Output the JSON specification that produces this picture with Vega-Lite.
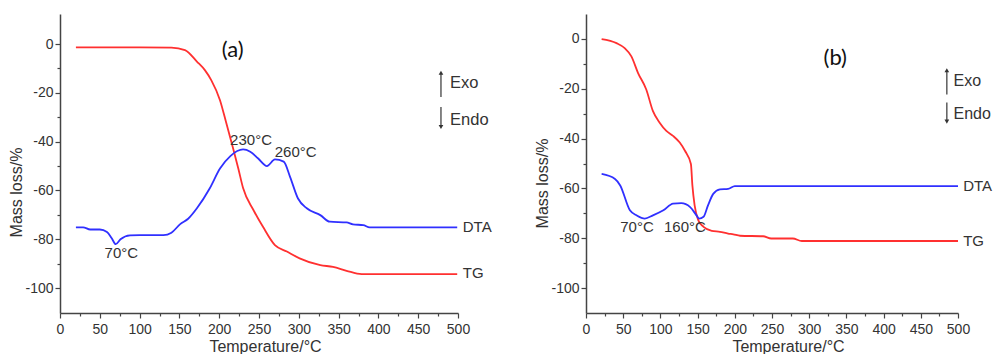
{
  "$schema": "https://vega.github.io/schema/vega-lite/v6.json",
  "padding": {"left": 8, "top": 14, "right": 0, "bottom": 0},
  "autosize": {"type": "pad"},
  "background": "white",
  "bounds": "flush",
  "spacing": 128,
  "config": {
    "view": {"stroke": null},
    "font": "Liberation Sans",
    "axis": {"domainColor": "#444", "domainWidth": 1.5, "tickColor": "#444", "tickWidth": 1.2, "labelColor": "#333", "titleColor": "#333", "labelFontSize": 14, "titleFontSize": 16, "titleFontWeight": "normal", "grid": false, "labelOverlap": false, "labelFlush": false, "labelFont": "Liberation Sans", "titleFont": "Liberation Sans"},
    "text": {"font": "Liberation Sans", "fontSize": 15, "fill": "#333"}
  },
  "datasets": {
    "a_lines": [
      {"s": "TG", "T": 20, "v": -1.4}, {"s": "TG", "T": 60, "v": -1.4}, {"s": "TG", "T": 100, "v": -1.4}, {"s": "TG", "T": 140, "v": -1.5}, {"s": "TG", "T": 157, "v": -2.5}, {"s": "TG", "T": 172, "v": -7.2}, {"s": "TG", "T": 182, "v": -10.7}, {"s": "TG", "T": 190, "v": -14.8}, {"s": "TG", "T": 201, "v": -23}, {"s": "TG", "T": 209, "v": -32.5}, {"s": "TG", "T": 218, "v": -43.4}, {"s": "TG", "T": 224, "v": -51}, {"s": "TG", "T": 230, "v": -59}, {"s": "TG", "T": 243, "v": -68}, {"s": "TG", "T": 255, "v": -74.9}, {"s": "TG", "T": 270, "v": -82.4}, {"s": "TG", "T": 285, "v": -85}, {"s": "TG", "T": 301, "v": -87.8}, {"s": "TG", "T": 327, "v": -90.6}, {"s": "TG", "T": 343, "v": -91.3}, {"s": "TG", "T": 360, "v": -92.9}, {"s": "TG", "T": 379, "v": -94.3}, {"s": "TG", "T": 499, "v": -94.3},
      {"s": "DTA", "T": 20, "v": -75.1}, {"s": "DTA", "T": 29, "v": -75.1}, {"s": "DTA", "T": 38, "v": -76}, {"s": "DTA", "T": 50, "v": -76}, {"s": "DTA", "T": 59, "v": -77}, {"s": "DTA", "T": 65, "v": -79.6}, {"s": "DTA", "T": 70, "v": -82}, {"s": "DTA", "T": 76, "v": -80}, {"s": "DTA", "T": 88, "v": -78.4}, {"s": "DTA", "T": 100, "v": -78.3}, {"s": "DTA", "T": 130, "v": -78.3}, {"s": "DTA", "T": 140, "v": -77.3}, {"s": "DTA", "T": 151, "v": -73.8}, {"s": "DTA", "T": 161, "v": -71.6}, {"s": "DTA", "T": 172, "v": -67.3}, {"s": "DTA", "T": 188, "v": -59.2}, {"s": "DTA", "T": 201, "v": -51}, {"s": "DTA", "T": 214, "v": -45.9}, {"s": "DTA", "T": 230, "v": -43.2}, {"s": "DTA", "T": 239, "v": -44.1}, {"s": "DTA", "T": 249, "v": -46.9}, {"s": "DTA", "T": 260, "v": -50}, {"s": "DTA", "T": 270, "v": -47.3}, {"s": "DTA", "T": 281, "v": -48.2}, {"s": "DTA", "T": 289, "v": -54.4}, {"s": "DTA", "T": 299, "v": -63.3}, {"s": "DTA", "T": 310, "v": -67.3}, {"s": "DTA", "T": 327, "v": -70.1}, {"s": "DTA", "T": 339, "v": -72.8}, {"s": "DTA", "T": 360, "v": -73.1}, {"s": "DTA", "T": 368, "v": -73.9}, {"s": "DTA", "T": 381, "v": -74.2}, {"s": "DTA", "T": 389, "v": -75.1}, {"s": "DTA", "T": 499, "v": -75.1}
    ],
    "a_peaks": [{"T": 240, "v": -39.3, "label": "230°C"}, {"T": 296, "v": -44.3, "label": "260°C"}, {"T": 77, "v": -85.7, "label": "70°C"}],
    "a_side": [{"T": 506, "v": -75, "label": "DTA"}, {"T": 506, "v": -93.9, "label": "TG"}],
    "a_exo": [{"T": 490, "v": -16, "label": "Exo"}, {"T": 490, "v": -31.1, "label": "Endo"}],
    "a_name": [{"T": 217, "v": -2.5, "label": "(a)"}],
    "a_arrows": [{"T": 478.6, "v": -21.7, "v2": -12.0}, {"T": 478.6, "v": -25.8, "v2": -33.8}],
    "a_heads": [{"T": 478.6, "v": -11.8, "dir": "up"}, {"T": 478.6, "v": -34.0, "dir": "down"}],
    "b_lines": [
      {"s": "TG", "T": 21, "v": -0.1}, {"s": "TG", "T": 41, "v": -1.7}, {"s": "TG", "T": 52, "v": -3.7}, {"s": "TG", "T": 61, "v": -7}, {"s": "TG", "T": 70, "v": -13.7}, {"s": "TG", "T": 81, "v": -20.3}, {"s": "TG", "T": 90, "v": -29}, {"s": "TG", "T": 99, "v": -33.6}, {"s": "TG", "T": 108, "v": -36.9}, {"s": "TG", "T": 117, "v": -38.9}, {"s": "TG", "T": 126, "v": -41.6}, {"s": "TG", "T": 133, "v": -44.9}, {"s": "TG", "T": 141, "v": -50.2}, {"s": "TG", "T": 143, "v": -58.8}, {"s": "TG", "T": 146, "v": -66.8}, {"s": "TG", "T": 151, "v": -72.8}, {"s": "TG", "T": 158, "v": -75.4}, {"s": "TG", "T": 169, "v": -77}, {"s": "TG", "T": 180, "v": -77.4}, {"s": "TG", "T": 191, "v": -78.1}, {"s": "TG", "T": 198, "v": -78.4}, {"s": "TG", "T": 207, "v": -79}, {"s": "TG", "T": 238, "v": -79.2}, {"s": "TG", "T": 249, "v": -80.1}, {"s": "TG", "T": 278, "v": -80.1}, {"s": "TG", "T": 290, "v": -81.1}, {"s": "TG", "T": 500, "v": -81.1},
      {"s": "DTA", "T": 21, "v": -54.2}, {"s": "DTA", "T": 39, "v": -56.2}, {"s": "DTA", "T": 46, "v": -58.8}, {"s": "DTA", "T": 59, "v": -68.8}, {"s": "DTA", "T": 68, "v": -70.8}, {"s": "DTA", "T": 79, "v": -72.1}, {"s": "DTA", "T": 90, "v": -70.8}, {"s": "DTA", "T": 104, "v": -68.8}, {"s": "DTA", "T": 117, "v": -66.1}, {"s": "DTA", "T": 128, "v": -65.9}, {"s": "DTA", "T": 140, "v": -67.5}, {"s": "DTA", "T": 149, "v": -71}, {"s": "DTA", "T": 152, "v": -72.1}, {"s": "DTA", "T": 158, "v": -71.4}, {"s": "DTA", "T": 164, "v": -66.8}, {"s": "DTA", "T": 171, "v": -62.2}, {"s": "DTA", "T": 180, "v": -60.4}, {"s": "DTA", "T": 191, "v": -60.2}, {"s": "DTA", "T": 200, "v": -59.1}, {"s": "DTA", "T": 500, "v": -59.1}
    ],
    "b_peaks": [{"T": 68.5, "v": -75.3, "label": "70°C"}, {"T": 133, "v": -75.3, "label": "160°C"}],
    "b_side": [{"T": 507, "v": -59, "label": "DTA"}, {"T": 507, "v": -81.3, "label": "TG"}],
    "b_exo": [{"T": 494, "v": -16.7, "label": "Exo"}, {"T": 494, "v": -30.3, "label": "Endo"}],
    "b_name": [{"T": 335, "v": -7.6, "label": "(b)"}],
    "b_arrows": [{"T": 485, "v": -22.3, "v2": -12.8}, {"T": 485, "v": -25.5, "v2": -33.0}],
    "b_heads": [{"T": 485, "v": -12.6, "dir": "up"}, {"T": 485, "v": -33.2, "dir": "down"}]
  },
  "hconcat": [
    {
      "width": 398,
      "height": 299,
      "encoding": {
        "x": {"field": "T", "type": "quantitative", "scale": {"domain": [0, 500], "nice": false, "zero": false},
          "axis": {"values": [0, 25, 50, 75, 100, 125, 150, 175, 200, 225, 250, 275, 300, 325, 350, 375, 400, 425, 450, 475, 500], "labelExpr": "datum.value % 50 === 0 ? datum.label : ''", "tickSize": {"condition": {"test": "datum.value % 50 === 0", "value": 5}, "value": 3}, "title": "Temperature/°C", "titleX": 205, "labelPadding": 4, "titlePadding": 2}},
        "y": {"field": "v", "type": "quantitative", "scale": {"domain": [-110.2, 12.3], "nice": false, "zero": false},
          "axis": {"values": [-100, -90, -80, -70, -60, -50, -40, -30, -20, -10, 0], "labelExpr": "datum.value % 20 === 0 ? '' + datum.value : ''", "tickSize": {"condition": {"test": "datum.value % 20 === 0", "value": 5}, "value": 3}, "title": "Mass loss/%", "titleY": 178, "titlePadding": 0, "labelPadding": 2}}
      },
      "layer": [
        {"data": {"name": "a_lines"}, "mark": {"type": "line", "strokeWidth": 1.8, "interpolate": "monotone"},
          "encoding": {"color": {"field": "s", "type": "nominal", "scale": {"domain": ["TG", "DTA"], "range": ["#ff3030", "#3030ff"]}, "legend": null}}},
        {"data": {"name": "a_peaks"}, "mark": {"type": "text", "align": "center", "baseline": "middle"}, "encoding": {"text": {"field": "label"}}},
        {"data": {"name": "a_side"}, "mark": {"type": "text", "align": "left", "baseline": "middle"}, "encoding": {"text": {"field": "label"}}},
        {"data": {"name": "a_exo"}, "mark": {"type": "text", "align": "left", "baseline": "middle", "fontSize": 16.5}, "encoding": {"text": {"field": "label"}}},
        {"data": {"name": "a_name"}, "mark": {"type": "text", "align": "center", "baseline": "middle", "fontSize": 22, "font": "Lato", "fill": "#111"}, "encoding": {"text": {"field": "label"}}},
        {"data": {"name": "a_arrows"}, "mark": {"type": "rule", "stroke": "#444", "strokeWidth": 1.3}, "encoding": {"y2": {"field": "v2"}}},
        {"data": {"name": "a_heads"}, "mark": {"type": "point", "filled": true, "size": 22, "color": "#333", "opacity": 1},
          "encoding": {"shape": {"field": "dir", "type": "nominal", "scale": {"domain": ["up", "down"], "range": ["triangle-up", "triangle-down"]}, "legend": null}}}
      ]
    },
    {
      "width": 372,
      "height": 299,
      "encoding": {
        "x": {"field": "T", "type": "quantitative", "scale": {"domain": [0, 500], "nice": false, "zero": false},
          "axis": {"values": [0, 25, 50, 75, 100, 125, 150, 175, 200, 225, 250, 275, 300, 325, 350, 375, 400, 425, 450, 475, 500], "labelExpr": "datum.value % 50 === 0 ? datum.label : ''", "tickSize": {"condition": {"test": "datum.value % 50 === 0", "value": 5}, "value": 3}, "title": "Temperature/°C", "titleX": 202, "labelPadding": 4, "titlePadding": 2}},
        "y": {"field": "v", "type": "quantitative", "scale": {"domain": [-110, 10], "nice": false, "zero": false},
          "axis": {"values": [-100, -90, -80, -70, -60, -50, -40, -30, -20, -10, 0], "labelExpr": "datum.value % 20 === 0 ? '' + datum.value : ''", "tickSize": {"condition": {"test": "datum.value % 20 === 0", "value": 5}, "value": 3}, "title": "Mass loss/%", "titleY": 169, "titlePadding": 0, "labelPadding": 2}}
      },
      "layer": [
        {"data": {"name": "b_lines"}, "mark": {"type": "line", "strokeWidth": 1.8, "interpolate": "monotone"},
          "encoding": {"color": {"field": "s", "type": "nominal", "scale": {"domain": ["TG", "DTA"], "range": ["#ff3030", "#3030ff"]}, "legend": null}}},
        {"data": {"name": "b_peaks"}, "mark": {"type": "text", "align": "center", "baseline": "middle"}, "encoding": {"text": {"field": "label"}}},
        {"data": {"name": "b_side"}, "mark": {"type": "text", "align": "left", "baseline": "middle"}, "encoding": {"text": {"field": "label"}}},
        {"data": {"name": "b_exo"}, "mark": {"type": "text", "align": "left", "baseline": "middle", "fontSize": 16}, "encoding": {"text": {"field": "label"}}},
        {"data": {"name": "b_name"}, "mark": {"type": "text", "align": "center", "baseline": "middle", "fontSize": 22, "font": "Lato", "fill": "#111"}, "encoding": {"text": {"field": "label"}}},
        {"data": {"name": "b_arrows"}, "mark": {"type": "rule", "stroke": "#444", "strokeWidth": 1.3}, "encoding": {"y2": {"field": "v2"}}},
        {"data": {"name": "b_heads"}, "mark": {"type": "point", "filled": true, "size": 22, "color": "#333", "opacity": 1},
          "encoding": {"shape": {"field": "dir", "type": "nominal", "scale": {"domain": ["up", "down"], "range": ["triangle-up", "triangle-down"]}, "legend": null}}}
      ]
    }
  ]
}
